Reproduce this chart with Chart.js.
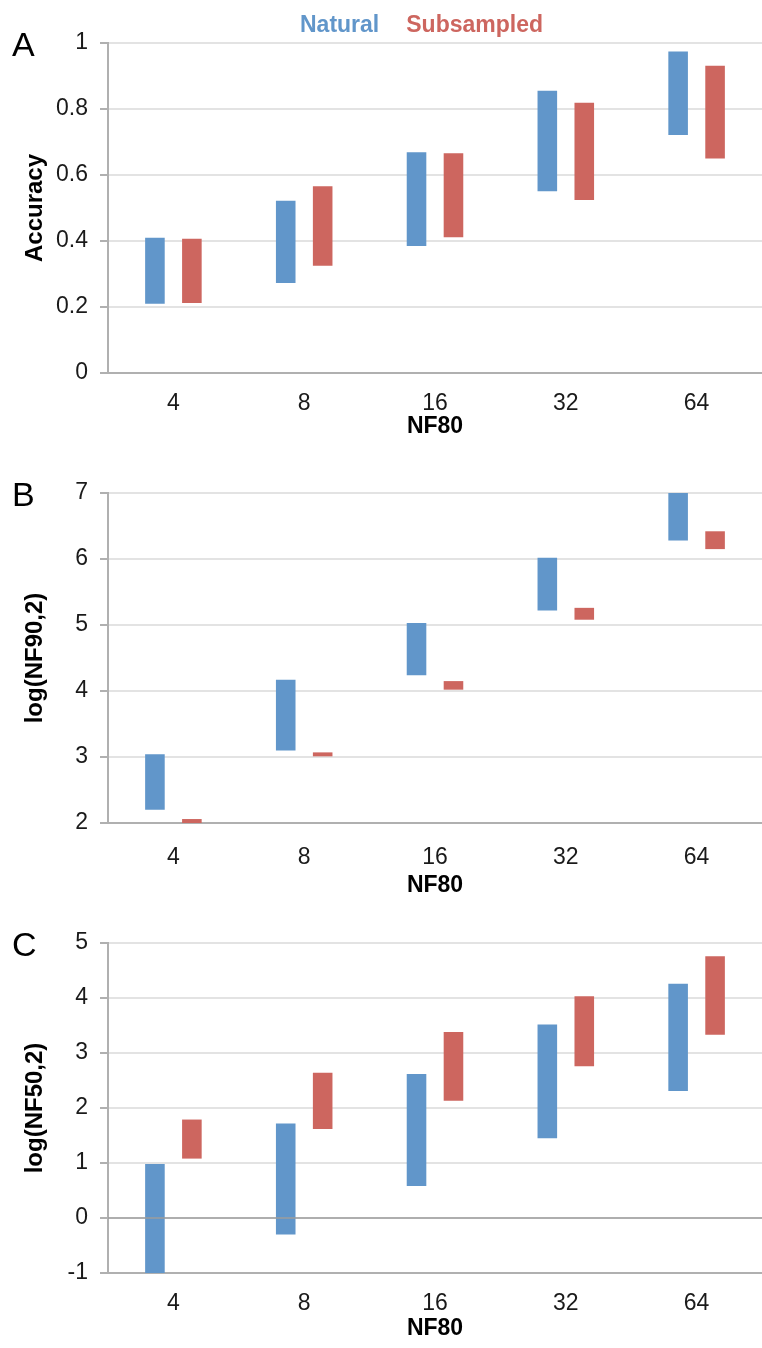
<!DOCTYPE html>
<html>
<head>
<meta charset="utf-8">
<script src="https://cdn.jsdelivr.net/npm/chart.js@4.4.1/dist/chart.umd.min.js"></script>
<style>
  body { margin: 0; background: #fff; width: 762px; height: 1348px; overflow: hidden; position: relative;
         font-family: "Liberation Sans", Arial, sans-serif; }
  .panel { position: absolute; left: 0; width: 762px; height: 450px; }
  .panel canvas { display: block; }
  .letter { position: absolute; left: 12px; top: 27px; font-size: 34px; line-height: 34px; color: #000; }
  #legend { position: absolute; top: 13px; left: 300px; font-size: 23px; line-height: 23px;
            font-weight: bold; white-space: nowrap; z-index: 2; }
  #legend span + span { margin-left: 27px; }
</style>
</head>
<body>
<div class="panel" style="top:0">
  <canvas id="chartA" width="762" height="450"></canvas>
  <div class="letter">A</div>
  <div id="legend"><span style="color:#6196ca">Natural</span><span style="color:#cd665f">Subsampled</span></div>
</div>
<div class="panel" style="top:450px">
  <canvas id="chartB" width="762" height="450"></canvas>
  <div class="letter">B</div>
</div>
<div class="panel" style="top:900px">
  <canvas id="chartC" width="762" height="450"></canvas>
  <div class="letter">C</div>
</div>
<script>
// NF80 categories (x axis, same for all three panels)
const categories = ['4', '8', '16', '32', '64'];

// A: accuracy ranges
const accNaturalLow  = [0.210, 0.273, 0.385, 0.551, 0.721];
const accNaturalHigh = [0.410, 0.522, 0.669, 0.855, 0.974];
const accSubLow      = [0.212, 0.325, 0.411, 0.524, 0.650];
const accSubHigh     = [0.407, 0.566, 0.666, 0.819, 0.931];

// B: log(NF90,2) ranges
const nf90NaturalLow  = [2.20, 3.10, 4.24, 5.22, 6.28];
const nf90NaturalHigh = [3.04, 4.17, 5.03, 6.02, 7.00];
const nf90SubLow      = [2.00, 3.01, 4.02, 5.08, 6.15];
const nf90SubHigh     = [2.06, 3.07, 4.15, 5.26, 6.42];

// C: log(NF50,2) ranges
const nf50NaturalLow  = [-1.00, -0.30, 0.58, 1.45, 2.31];
const nf50NaturalHigh = [0.98, 1.72, 2.62, 3.52, 4.26];
const nf50SubLow      = [1.08, 1.62, 2.13, 2.76, 3.33];
const nf50SubHigh     = [1.79, 2.64, 3.38, 4.03, 4.76];

const BLUE = '#6196ca';
const RED = '#cd665f';

Chart.defaults.font.family = "'Liberation Sans', Arial, sans-serif";
Chart.defaults.color = '#1a1a1a';

// zero line drawn over the bars (panel C)
const zeroLine = {
  id: 'zeroLine',
  afterDatasetsDraw(chart, args, opts) {
    if (!opts.show) return;
    const ctx = chart.ctx;
    const y = chart.scales.y.getPixelForValue(0);
    ctx.save();
    ctx.strokeStyle = opts.color;
    ctx.lineWidth = opts.width;
    ctx.beginPath();
    ctx.moveTo(chart.chartArea.left, y);
    ctx.lineTo(chart.chartArea.right, y);
    ctx.stroke();
    ctx.restore();
  }
};

function ranges(lo, hi) {
  return lo.map((v, i) => [v, hi[i]]);
}

function makePanel(id, yTitle, yMin, yMax, yStep, natLo, natHi, subLo, subHi, showZero, tickPad, titlePad) {
  new Chart(document.getElementById(id), {
    type: 'bar',
    data: {
      labels: categories,
      datasets: [
        { label: 'Natural', data: ranges(natLo, natHi), backgroundColor: BLUE, borderWidth: 0 },
        { label: 'Subsampled', data: ranges(subLo, subHi), backgroundColor: RED, borderWidth: 0 }
      ]
    },
    options: {
      responsive: false,
      animation: false,
      categoryPercentage: 0.565,
      barPercentage: 0.53,
      layout: { padding: { top: 43, left: 0, right: 0, bottom: 0 } },
      plugins: {
        legend: { display: false },
        tooltip: { enabled: false },
        zeroLine: { show: showZero, color: '#9c9c9c', width: 1.5 }
      },
      scales: {
        x: {
          grid: { display: false },
          border: { color: '#b0b0b0', width: 2 },
          ticks: { font: { size: 23 }, padding: tickPad },
          title: { display: true, text: 'NF80', font: { size: 23, weight: 'bold' },
                   color: '#000', padding: { top: 0, bottom: titlePad } },
          afterFit: s => { s.height = 77; }
        },
        y: {
          min: yMin,
          max: yMax,
          grid: { color: '#e3e3e3', lineWidth: 2, tickLength: 8, tickColor: '#b0b0b0' },
          border: { color: '#b0b0b0', width: 2 },
          ticks: { stepSize: yStep, font: { size: 23 }, padding: 12,
                   callback: v => String(+v.toFixed(2)) },
          title: { display: true, text: yTitle, font: { size: 24, weight: 'bold' },
                   color: '#000', padding: { top: 21, bottom: 0 } },
          afterFit: s => { s.width = 108; }
        }
      }
    },
    plugins: [zeroLine]
  });
}

makePanel('chartA', 'Accuracy', 0, 1, 0.2, accNaturalLow, accNaturalHigh, accSubLow, accSubHigh, false, 9, 10);
makePanel('chartB', 'log(NF90,2)', 2, 7, 1, nf90NaturalLow, nf90NaturalHigh, nf90SubLow, nf90SubHigh, false, 13, 1);
makePanel('chartC', 'log(NF50,2)', -1, 5, 1, nf50NaturalLow, nf50NaturalHigh, nf50SubLow, nf50SubHigh, true, 9, 8);
</script>
</body>
</html>
